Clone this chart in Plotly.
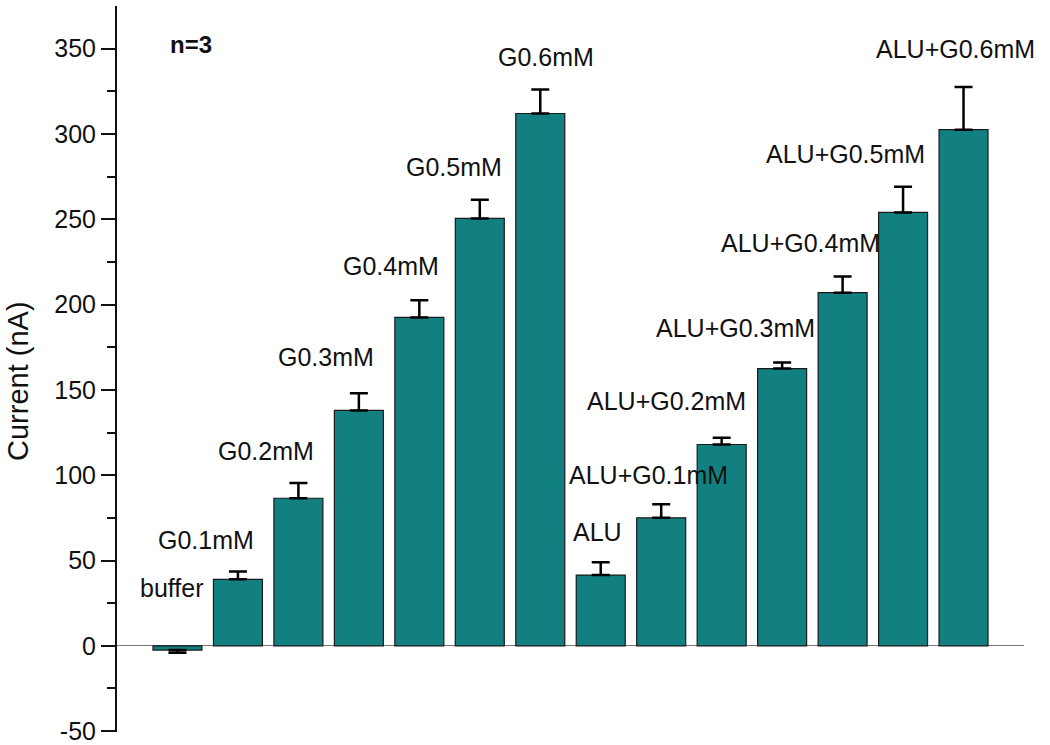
import plotly.graph_objects as go

categories = ["buffer", "G0.1mM", "G0.2mM", "G0.3mM", "G0.4mM", "G0.5mM", "G0.6mM",
              "ALU", "ALU+G0.1mM", "ALU+G0.2mM", "ALU+G0.3mM", "ALU+G0.4mM",
              "ALU+G0.5mM", "ALU+G0.6mM"]
values = [-2.5, 39, 86.5, 138, 192.5, 250.5, 312, 41.5, 75, 118, 162.5, 207, 254, 302.5]
errors = [1.5, 4.5, 9, 10, 10, 11, 14, 7.5, 8, 4, 3.5, 9.5, 15, 25]
# label anchor positions (category offset, value) as placed in the figure
label_x = [-0.1, 0.47, 1.46, 2.45, 3.53, 4.57, 6.09, 6.94, 7.79, 8.08, 9.23, 10.3, 11.05, 12.87]
label_y = [34, 62, 114, 169, 222.5, 280.5, 345, 67, 100, 143.5, 186, 236, 288, 349.7]
tick_vals = [-50, 0, 50, 100, 150, 200, 250, 300, 350]
tick_text = ["-50", "0", "50", "100", "150", "200", "250", "300", "350"]
minor_vals = [-25, 25, 75, 125, 175, 225, 275, 325]

xs = list(range(len(categories)))
err_plus = [e if v >= 0 else 0 for v, e in zip(values, errors)]
err_minus = [e if v < 0 else 0 for v, e in zip(values, errors)]

FONT = "Liberation Sans, Arial"

fig = go.Figure()
fig.add_trace(go.Bar(
    x=xs, y=values, width=0.81,
    marker=dict(color="#128080", line=dict(color="#1a1a1a", width=1.2)),
    error_y=dict(type="data", symmetric=False, array=err_plus, arrayminus=err_minus,
                 color="black", thickness=2.5, width=9),
    showlegend=False,
))

for lx, ly, t in zip(label_x, label_y, categories):
    fig.add_annotation(x=lx, y=ly, text=t, showarrow=False,
                       font=dict(family=FONT, size=25, color="#111"),
                       xanchor="center", yanchor="middle")

fig.add_annotation(x=0.22, y=352.5, text="<b>n=3</b>", showarrow=False,
                   font=dict(family=FONT, size=24, color="#111"),
                   xanchor="center", yanchor="middle")

fig.add_annotation(xref="paper", yref="paper", x=(18 - 117) / 907, y=0.4835,
                   text="Current (nA)", textangle=-90, showarrow=False,
                   font=dict(family=FONT, size=29, color="#111"),
                   xanchor="center", yanchor="middle")

fig.update_layout(
    width=1050, height=745,
    margin=dict(l=117, r=26, t=6, b=13, autoexpand=False),
    plot_bgcolor="white", paper_bgcolor="white",
    font=dict(family=FONT, size=25, color="#111"),
    xaxis=dict(range=[-1, 14], visible=False, showgrid=False, zeroline=False,
               automargin=False),
    yaxis=dict(
        range=[-50.5, 375], showgrid=False, automargin=False,
        zeroline=True, zerolinecolor="#777", zerolinewidth=1,
        showline=True, linecolor="#111", linewidth=2,
        tickmode="array", tickvals=tick_vals, ticktext=tick_text,
        ticks="outside", ticklen=14, tickwidth=2, tickcolor="#111",
        tickfont=dict(family=FONT, size=25, color="#111"),
        minor=dict(tickmode="array", tickvals=minor_vals,
                   ticks="outside", ticklen=8, tickwidth=2, tickcolor="#111"),
    ),
    bargap=0.19,
)

fig.write_html("out.html", post_script="document.body.style.margin='0';",
               config={"displayModeBar": False})
